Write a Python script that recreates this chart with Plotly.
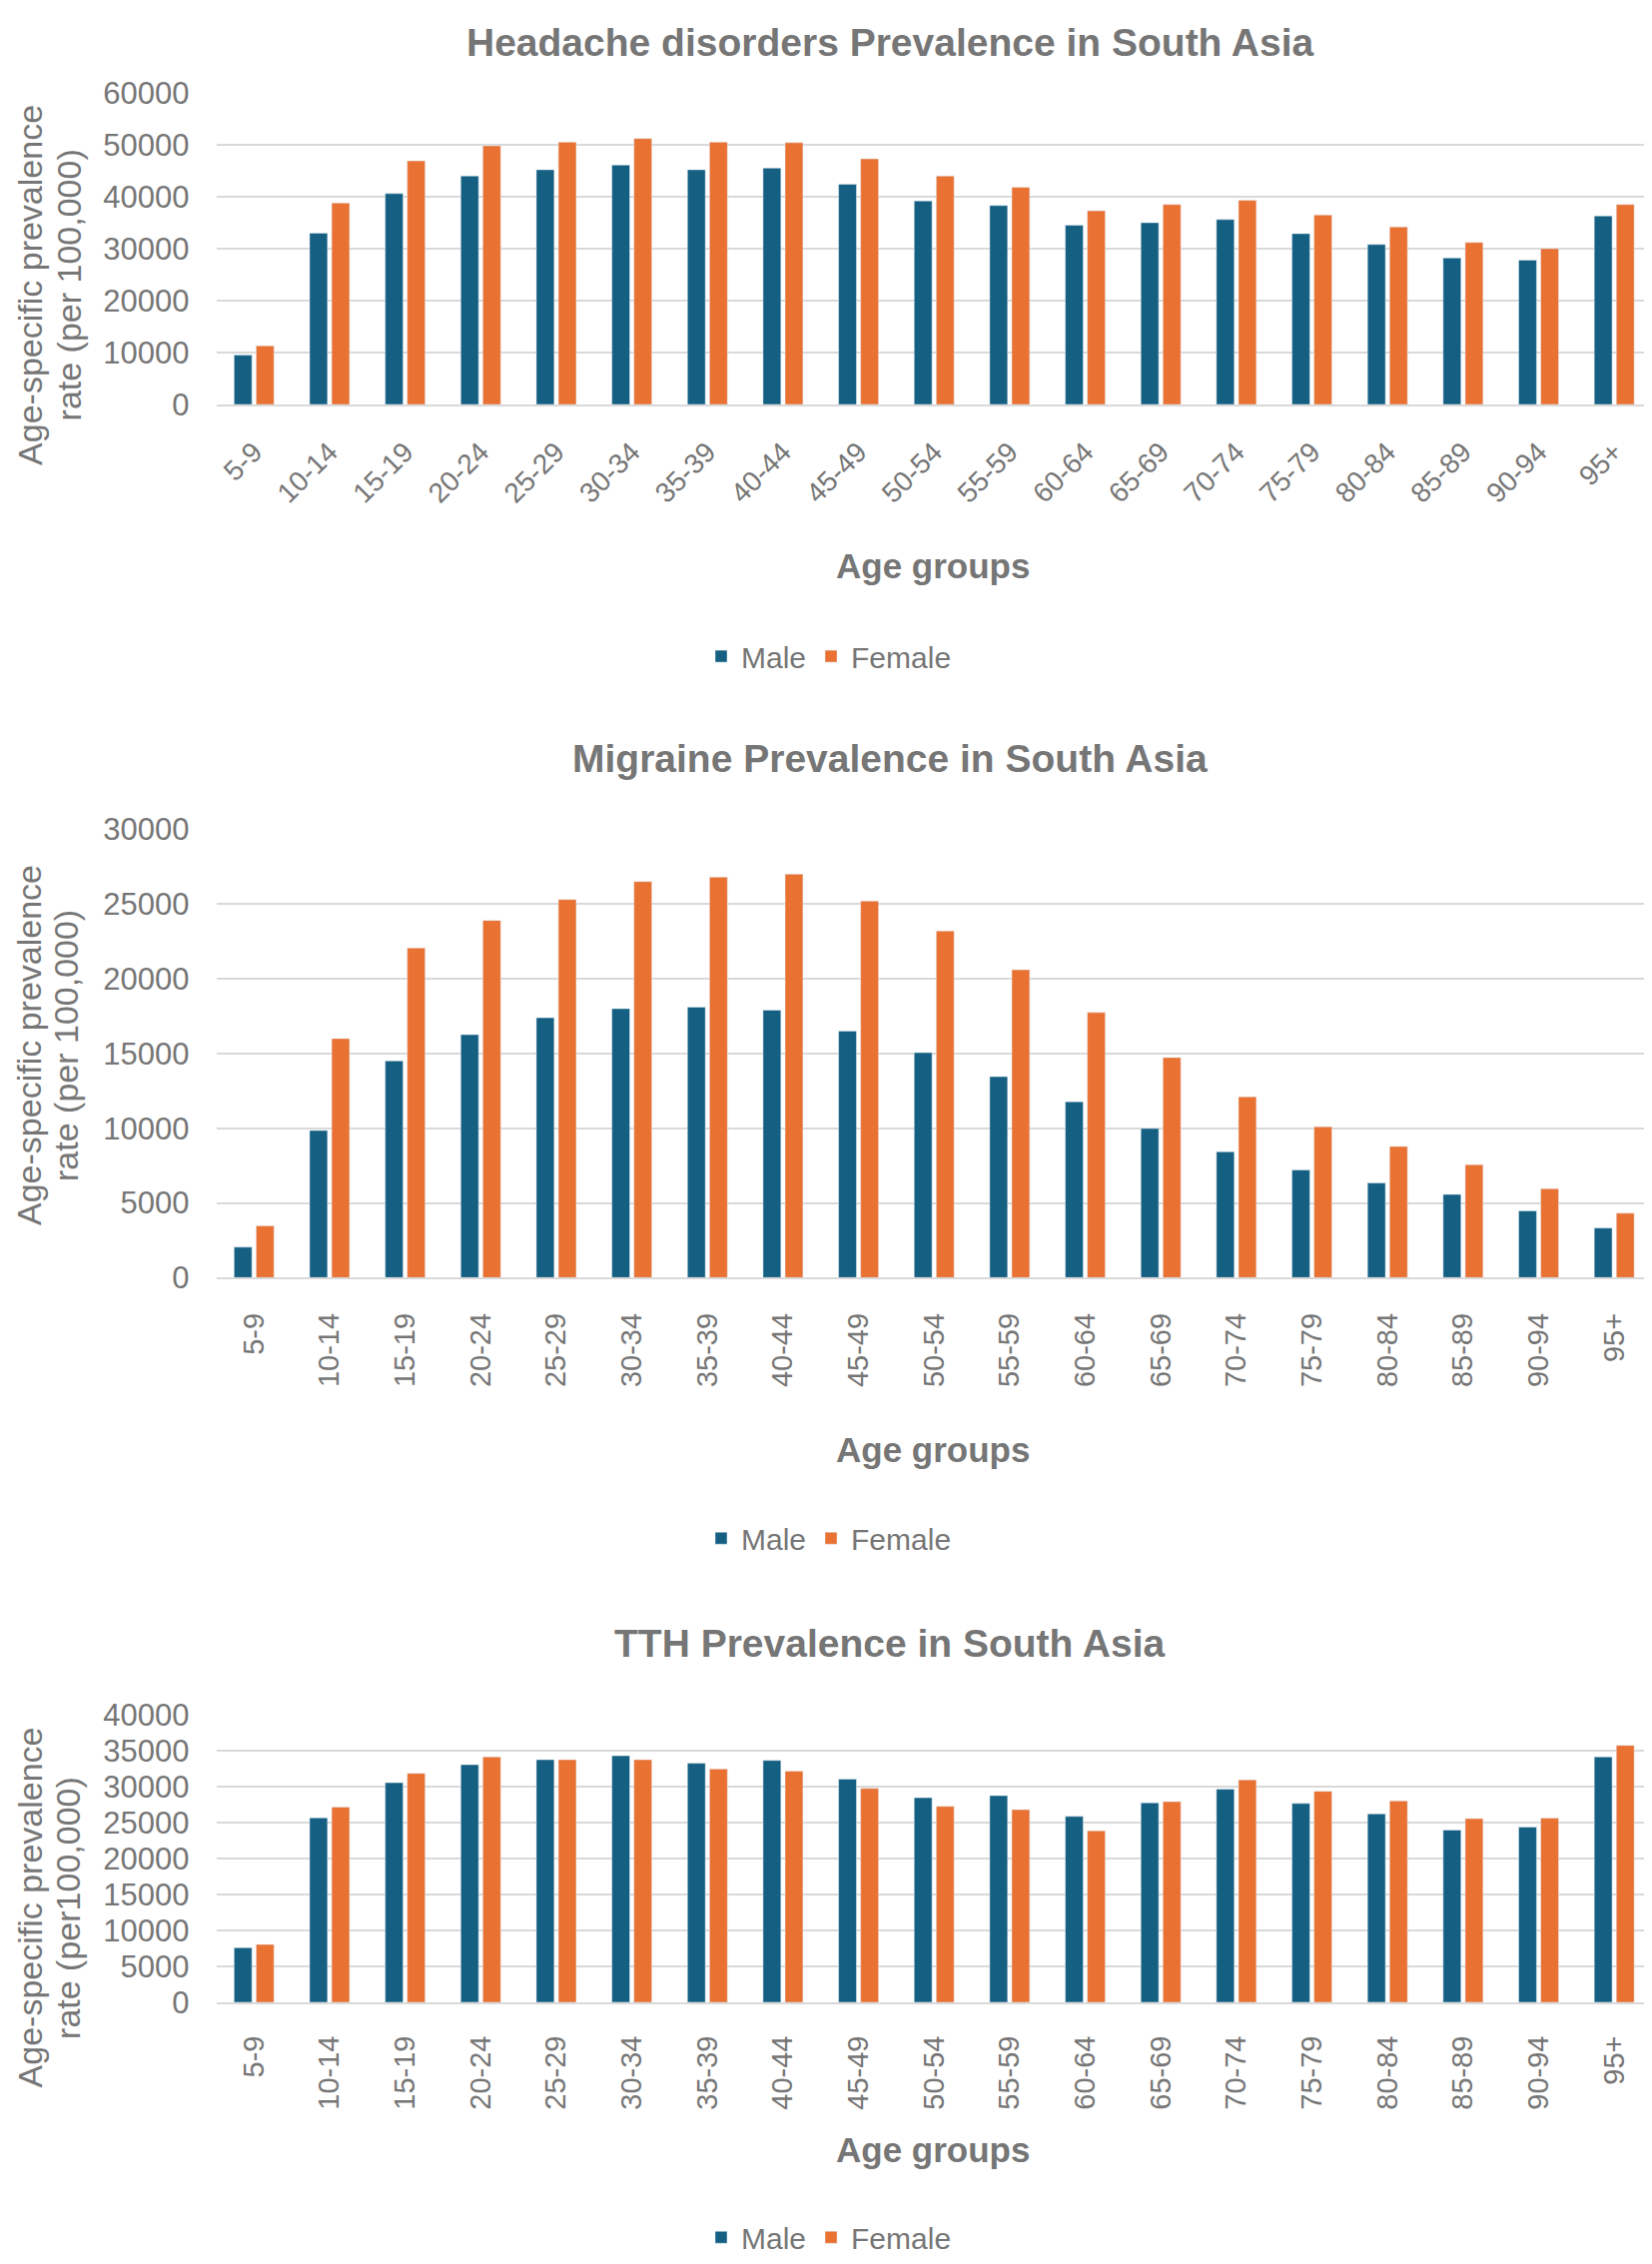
import plotly.graph_objects as go

W, H = 1654, 2267

ages = ["5-9", "10-14", "15-19", "20-24", "25-29", "30-34", "35-39", "40-44", "45-49",
        "50-54", "55-59", "60-64", "65-69", "70-74", "75-79", "80-84", "85-89", "90-94", "95+"]

headache_male = [9500, 33000, 40600, 44000, 45200, 46100, 45200, 45500, 42400, 39200,
                 38300, 34500, 35000, 35600, 32900, 30800, 28200, 27800, 36300]
headache_female = [11300, 38800, 46900, 49800, 50500, 51200, 50500, 50400, 47300, 44000,
                   41800, 37300, 38500, 39300, 36500, 34200, 31200, 30000, 38500]

migraine_male = [2040, 9850, 14500, 16260, 17390, 18000, 18100, 17900, 16500, 15060,
                 13450, 11770, 9980, 8420, 7200, 6330, 5570, 4470, 3320]
migraine_female = [3470, 16000, 22060, 23900, 25300, 26500, 26800, 27000, 25200, 23200,
                   20600, 17740, 14730, 12100, 10100, 8780, 7560, 5950, 4310]

tth_male = [7600, 25700, 30600, 33100, 33800, 34350, 33300, 33700, 31100, 28500,
            28800, 25900, 27800, 29700, 27700, 26250, 24000, 24400, 34200]
tth_female = [8060, 27200, 31900, 34200, 33800, 33800, 32500, 32200, 29800, 27300,
              26850, 23900, 27960, 31000, 29400, 28060, 25600, 25650, 35800]

titles = ["Headache disorders Prevalence in South Asia",
          "Migraine Prevalence in South Asia",
          "TTH Prevalence in South Asia"]
ytitles = [["Age-specific prevalence", "rate (per 100,000)"],
           ["Age-specific prevalence", "rate (per 100,000)"],
           ["Age-specific prevalence", "rate (per100,000)"]]
ymax = [60000, 30000, 40000]
ydtick = [10000, 5000, 5000]

MALE = "#156082"
FEMALE = "#E97132"
TEXT = "#767676"
GRID = "#D9D9D9"
FONT = "Liberation Sans, Arial, sans-serif"

# pixel positions per panel (figure px from the top)
panels = [
    dict(top=69, bot=386, ty=18, ay=550, ly=642, yx=(22, 60.5), yc=265,
         angle=-45, tsize=28, stand=18),
    dict(top=818, bot=1274, ty=746, ay=1449, ly=1539, yx=(21, 58), yc=1038,
         angle=-90, tsize=29, stand=22),
    dict(top=1719, bot=2011, ty=1646, ay=2161, ly=2250, yx=(22, 60.5), yc=1915,
         angle=-90, tsize=29, stand=20),
]

series = [(headache_male, headache_female),
          (migraine_male, migraine_female),
          (tth_male, tth_female)]

X0, X1 = 208.5, 1646


def py(v):
    return 1 - v / H


fig = go.Figure()
annotations = []
layout = dict(
    width=W, height=H,
    margin=dict(l=0, r=0, t=0, b=0),
    paper_bgcolor="white", plot_bgcolor="white",
    barmode="group", bargap=0.416, bargroupgap=0.19,
    font=dict(family=FONT, color=TEXT),
)

for i, (p, (m, f)) in enumerate(zip(panels, series)):
    n = "" if i == 0 else str(i + 1)
    leg = "legend" + n
    fig.add_trace(go.Bar(x=ages, y=m, name="Male", marker_color=MALE,
                         xaxis="x" + n, yaxis="y" + n, legend=leg))
    fig.add_trace(go.Bar(x=ages, y=f, name="Female", marker_color=FEMALE,
                         xaxis="x" + n, yaxis="y" + n, legend=leg))

    layout["xaxis" + n] = dict(
        domain=[X0 / W, X1 / W], anchor="y" + n,
        tickangle=p["angle"], tickfont=dict(size=p["tsize"], color=TEXT),
        showline=True, linecolor=GRID, linewidth=2,
        showgrid=False, ticks="", ticklabelstandoff=p["stand"],
    )
    layout["yaxis" + n] = dict(
        domain=[py(p["bot"]), py(p["top"])], anchor="x" + n,
        range=[0, ymax[i]], dtick=ydtick[i], tickformat="d",
        tickfont=dict(size=31, color=TEXT),
        showgrid=True, gridcolor=GRID, gridwidth=2,
        zeroline=False, ticks="", ticklabelstandoff=26,
    )
    layout[leg] = dict(
        orientation="h", x=822 / W, xanchor="center", y=py(p["ly"]), yanchor="middle",
        font=dict(size=30, color=TEXT), bgcolor="rgba(0,0,0,0)",
        traceorder="normal",
    )

    annotations.append(dict(
        text="<b>" + titles[i] + "</b>", x=883 / W, y=py(p["ty"]),
        xref="paper", yref="paper", xanchor="center", yanchor="middle",
        showarrow=False, font=dict(size=39, color=TEXT),
    ))
    annotations.append(dict(
        text="<b>Age groups</b>", x=926 / W, y=py(p["ay"]),
        xref="paper", yref="paper", xanchor="center", yanchor="middle",
        showarrow=False, font=dict(size=35, color=TEXT),
    ))
    for line, xpx in zip(ytitles[i], p["yx"]):
        annotations.append(dict(
            text=line, x=xpx / W, y=py(p["yc"]), textangle=-90,
            xref="paper", yref="paper", xanchor="center", yanchor="middle",
            showarrow=False, font=dict(size=34, color=TEXT),
        ))

layout["annotations"] = annotations
fig.update_layout(**layout)

fig.write_html("out.html")
